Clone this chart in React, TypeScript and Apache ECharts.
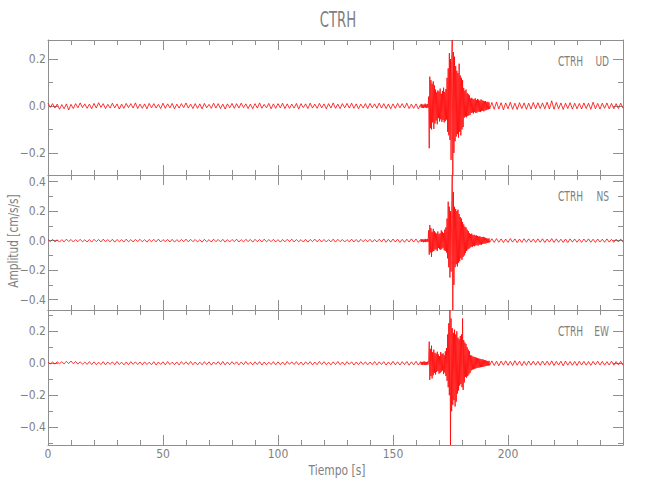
import React, { useEffect, useRef } from "react";
import * as echarts from "echarts";

// ---------- data (amplitudes in units of 0.001 cm/s/s) ----------
const STATION = "CTRH";
const COMPONENTS = ["UD", "NS", "EW"];

const PRE_START = 0; // s, step 1 s
const EVENT_START = 162; // s, step 0.25 s
const EVENT_STEP = 0.25;
const POST_START = 193; // s, step 1 s

const X_MAJOR = [0, 50, 100, 150, 200, 250];
const X_LABELS = [0, 50, 100, 150, 200];
const X_MINOR = [10, 20, 30, 40, 60, 70, 80, 90, 110, 120, 130, 140, 160, 170, 180, 190, 210, 220, 230, 240];

const Y_MIN = [-0.294, -0.47, -0.511];
const Y_MAX = [0.281, 0.445, 0.333];
const Y_MAJOR = [[-0.2, 0, 0.2], [-0.4, -0.2, 0, 0.2, 0.4], [-0.4, -0.2, 0, 0.2]];
const Y_MINOR = [[-0.1, 0.1], [-0.3, -0.1, 0.1, 0.3], [-0.5, -0.3, -0.1, 0.1, 0.3]];

const UD_PRE = [
  12, -6, 10, -9, 8, -14, 6, -12, 9, -17, 7, -11, 10, -8, 13, -7, 9, -10, 8, -12,
  11, -9, 14, -6, 10, -11, 7, -9, 12, -8, 9, -13, 8, -10, 11, -7, 10, -9, 13, -11,
  8, -10, 9, -12, 11, -8, 10, -9, 7, -11, 12, -10, 9, -8, 11, -12, 8, -9, 10, -7,
  13, -9, 8, -11, 10, -10, 9, -12, 11, -8, 7, -10, 12, -9, 10, -11, 8, -13, 9, -8,
  11, -10, 10, -9, 12, -7, 9, -11, 8, -12, 10, -9, 13, -10, 7, -8, 11, -12, 9, -10,
  10, -8, 12, -11, 9, -10, 8, -9, 11, -13, 10, -7, 9, -11, 12, -9, 8, -10, 11, -8,
  9, -12, 10, -9, 13, -10, 8, -11, 10, -8, 11, -9, 12, -10, 9, -12, 8, -9, 10, -11,
  11, -8, 9, -10, 12, -9, 10, -11, 8, -12, 9, -10, 11, -8, 10, -9, 12, -11, 8, -10, 9, -12,
];
const UD_EVENT = [
  6, -7, 9, -8, 5, -9, 7, -6, 10, -8, 6, -9, 8, -7,
  40, -180, 125, -95, 110, -100, 95, -70, 105, -98, 88, -75,
  70, -62, 58, -78, 66, -52, 62, -66, 74, -57, 52, -68, 64, -60, 78, -70, 60, -65, 72, -58,
  120, -110, 160, -125, 225, -145, 200, -230, 190, 281, -294, 230, -200,
  210, -150, 170, -130, 150, -120, 140, -135, 180, -110, 130, -125, 120, -100, 110, -90,
  77, -50, 65, -45, 70, -48, 55, -42, 50, -40, 45, -38,
  32, -30, 35, -28, 30, -32, 28, -26, 33, -30, 25, -28, 30, -24, 27, -25, 22, -26, 28, -22,
  24, -20, 22, -23, 20, -19, 21, -18,
  16, -15, 18, -14, 15, -13,
];
const UD_POST = [
  15, -14, 17, -13, 14, -16, 13, -12, 16, -14, 12, -15, 14, -11, 13, -14, 12, -13, 15, -12,
  14, -11, 13, -12, 16, -13, 22, -14, 15, -12, 13, -15, 12, -11, 14, -13, 12, -12, 11, -13,
  13, -11, 12, -14, 16, -12, 11, -13, 12, -10, 13, -12, 11, -12, 10, -11, 12, -10,
];

const NS_PRE = [
  8, -7, 9, -8, 6, -10, 7, -8, 10, -6, 8, -9, 7, -7, 9, -8, 6, -9, 8, -10,
  9, -7, 8, -9, 10, -6, 7, -8, 9, -10, 8, -7, 6, -9, 10, -8, 7, -9, 8, -6,
  9, -8, 7, -10, 8, -7, 9, -8, 10, -9, 7, -6, 8, -9, 9, -10, 7, -8, 8, -7,
  10, -8, 9, -7, 8, -9, 6, -10, 9, -8, 7, -9, 10, -7, 8, -8, 9, -10, 7, -9,
  8, -7, 10, -9, 7, -8, 9, -6, 8, -10, 9, -7, 8, -9, 10, -8, 7, -7, 9, -9,
  7, -10, 8, -8, 9, -7, 10, -9, 8, -8, 7, -9, 9, -10, 8, -7, 10, -8, 9, -9,
  8, -9, 7, -8, 10, -10, 9, -7, 8, -9, 7, -8, 10, -9, 8, -10, 9, -7, 8, -8,
  9, -10, 8, -9, 10, -8, 12, -11, 9, -10, 11, -9, 10, -12, 9, -11, 10, -9, 12, -10, 11, -12,
];
const NS_EVENT = [
  8, -9, 10, -7, 9, -11, 8, -8, 12, -10, 9, -8, 11, -9,
  70, -95, 106, -80, 85, -110, 60, -75, 80, -70, 65, -60,
  55, -60, 48, -70, 62, -50, 45, -58, 50, -62, 70, -55, 60, -48, 52, -65, 75, -70, 90, -80,
  150, -120, 264, -180, 230, -250, 200, -210, 180, 445, -470, 330, -300,
  230, -180, 215, -160, 200, -175, 210, -150, 180, -140, 160, -120, 150, -130, 127, -110,
  110, -100, 95, -85, 90, -70, 75, -60, 65, -55, 50, -48,
  45, -40, 48, -42, 38, -35, 40, -38, 35, -32, 36, -30, 32, -34, 28, -27, 30, -26, 25, -28,
  24, -22, 26, -20, 22, -21, 19, -18,
  16, -15, 14, -13, 15, -12,
];
const NS_POST = [
  13, -12, 14, -11, 12, -13, 11, -12, 14, -10, 12, -13, 11, -12, 13, -11, 12, -10, 11, -12,
  12, -11, 13, -12, 11, -10, 14, -12, 12, -11, 10, -12, 11, -13, 12, -10, 11, -11, 10, -12,
  11, -10, 12, -11, 10, -12, 11, -9, 10, -11, 12, -10, 9, -11, 10, -9, 11, -10,
];

const EW_PRE = [
  6, -4, 8, -5, 9, -3, 10, -4, 12, -2, 14, -3, 11, -5, 9, -6, 8, -7, 10, -8,
  9, -9, 7, -8, 10, -10, 8, -7, 9, -9, 11, -8, 7, -10, 8, -9, 10, -7, 9, -8,
  8, -10, 9, -8, 7, -9, 10, -11, 8, -7, 9, -10, 11, -8, 7, -9, 8, -10, 10, -7,
  9, -8, 11, -9, 8, -10, 7, -9, 10, -8, 9, -11, 8, -7, 10, -9, 11, -10, 8, -9,
  10, -7, 9, -10, 8, -9, 11, -8, 7, -10, 9, -8, 10, -11, 8, -9, 7, -8, 10, -10,
  9, -9, 8, -10, 11, -7, 9, -8, 10, -9, 8, -11, 9, -7, 10, -10, 8, -9, 11, -8,
  10, -9, 7, -10, 9, -8, 11, -9, 8, -10, 10, -7, 9, -11, 8, -9, 10, -8, 9, -10,
  8, -9, 11, -10, 9, -8, 10, -11, 8, -9, 12, -10, 9, -11, 10, -8, 11, -12, 9, -10, 12, -11,
];
const EW_EVENT = [
  10, -9, 8, -11, 9, -8, 12, -10, 9, -11, 8, -9, 10, -8,
  20, 135, -104, 90, -80, 110, -95, 70, -75, 85, -60, 65,
  -70, 60, -55, 72, -48, 55, -65, 45, -60, 70, -52, 58, -45, 62, -68, 50, -58, 75, -80, 95,
  -110, 180, -150, 250, -200, 333, -511, 280, -300, 220, -260, 190, -230,
  210, -270, 180, -240, 200, -190, 160, -170, 150, -140, 170, -130, 180, -150, 280, -167,
  145, -120, 130, -85, 120, -90, 100, -80, 85, -70, 75, -60,
  50, -45, 48, -40, 42, -38, 40, -35, 38, -32, 35, -30, 32, -28, 30, -27, 28, -25, 26, -24,
  25, -22, 23, -21, 20, -19, 18, -17,
  16, -15, 14, -14, 15, -13,
];
const EW_POST = [
  15, -14, 13, -16, 14, -12, 15, -13, 12, -14, 16, -12, 13, -15, 12, -13, 14, -11, 13, -12,
  12, -13, 14, -11, 13, -12, 15, -14, 12, -11, 13, -16, 14, -12, 11, -13, 12, -14, 13, -11,
  12, -12, 11, -13, 12, -10, 13, -11, 12, -12, 10, -11, 13, -12, 11, -10, 12, -11,
];

// ---------- styling ----------
const FONT = "'Liberation Sans Narrow', 'DejaVu Sans Condensed', 'Liberation Sans', sans-serif";
const AXIS_COLOR = "#8f8f8f";
const TEXT_COLOR = "#808080";
const TRACE_COLOR = "#ff0000";

const GRID_LEFT = 48;
const GRID_WIDTH = 575;
const GRID_TOP = 40;
const GRID_HEIGHT = 135;

function buildTrace(pre: number[], ev: number[], post: number[]) {
  const out: number[][] = [];
  pre.forEach((v, i) => out.push([PRE_START + i, v / 1000]));
  ev.forEach((v, i) => out.push([EVENT_START + EVENT_STEP * i, v / 1000]));
  post.forEach((v, i) => out.push([POST_START + i, v / 1000]));
  return out;
}

const fmtY = (v: number) => {
  if (Math.abs(v) < 1e-9) return "0.0";
  return (v < 0 ? "\u2212" : "") + Math.abs(v).toFixed(1);
};

function xAx(g: number, pos: string, major: boolean, showLabel: boolean) {
  return {
    type: "value",
    gridIndex: g,
    position: pos,
    min: 0,
    max: 250,
    axisLine: { show: major, onZero: false, lineStyle: { color: AXIS_COLOR, width: 1 } },
    axisTick: {
      show: true,
      inside: true,
      length: major ? 10 : 5,
      customValues: major ? X_MAJOR : X_MINOR,
      lineStyle: { color: AXIS_COLOR, width: 1 },
    },
    axisLabel: {
      show: showLabel,
      customValues: X_LABELS,
      color: TEXT_COLOR,
      fontFamily: FONT,
      fontSize: 12,
      margin: 3,
    },
    splitLine: { show: false },
  };
}

function yAx(g: number, pos: string, major: boolean, showLabel: boolean) {
  return {
    type: "value",
    gridIndex: g,
    position: pos,
    min: Y_MIN[g],
    max: Y_MAX[g],
    axisLine: { show: major, onZero: false, lineStyle: { color: AXIS_COLOR, width: 1 } },
    axisTick: {
      show: true,
      inside: true,
      length: major ? 10 : 5,
      customValues: major ? Y_MAJOR[g] : Y_MINOR[g],
      lineStyle: { color: AXIS_COLOR, width: 1 },
    },
    axisLabel: {
      show: showLabel,
      customValues: Y_MAJOR[g],
      formatter: fmtY,
      color: TEXT_COLOR,
      fontFamily: FONT,
      fontSize: 12,
      margin: 2,
    },
    splitLine: { show: false },
  };
}

export default function App() {
  const ref = useRef<HTMLDivElement>(null);
  useEffect(() => {
    if (!ref.current) return;
    const chart = echarts.init(ref.current, null, { renderer: "svg" });
    const traces = [
      buildTrace(UD_PRE, UD_EVENT, UD_POST),
      buildTrace(NS_PRE, NS_EVENT, NS_POST),
      buildTrace(EW_PRE, EW_EVENT, EW_POST),
    ];
    const gridIdx = [0, 1, 2];
    const grids = gridIdx.map((g) => ({
      left: GRID_LEFT,
      width: GRID_WIDTH,
      top: GRID_TOP + GRID_HEIGHT * g,
      height: GRID_HEIGHT,
    }));
    const xAxis: any[] = [];
    const yAxis: any[] = [];
    gridIdx.forEach((g) => {
      xAxis.push(xAx(g, "bottom", true, g === 2));
      xAxis.push(xAx(g, "bottom", false, false));
      xAxis.push(xAx(g, "top", true, false));
      xAxis.push(xAx(g, "top", false, false));
      yAxis.push(yAx(g, "left", true, true));
      yAxis.push(yAx(g, "left", false, false));
      yAxis.push(yAx(g, "right", true, false));
      yAxis.push(yAx(g, "right", false, false));
    });
    const graphic: any[] = [
      {
        type: "text",
        x: 338,
        y: 19,
        scaleX: 0.7,
        style: {
          text: STATION,
          fill: TEXT_COLOR,
          fontFamily: FONT,
          fontSize: 21,
          align: "center",
          verticalAlign: "middle",
        },
      },
      {
        type: "text",
        x: 13,
        y: 241,
        rotation: Math.PI / 2,
        scaleX: 0.84,
        style: {
          text: "Amplitud [cm/s/s]",
          fill: TEXT_COLOR,
          fontFamily: FONT,
          fontSize: 14,
          align: "center",
          verticalAlign: "middle",
        },
      },
      {
        type: "text",
        x: 337,
        y: 470,
        scaleX: 0.85,
        style: {
          text: "Tiempo [s]",
          fill: TEXT_COLOR,
          fontFamily: FONT,
          fontSize: 14,
          align: "center",
          verticalAlign: "middle",
        },
      },
    ];
    gridIdx.forEach((g) => {
      const cy = GRID_TOP + GRID_HEIGHT * g + 21;
      graphic.push({
        type: "text",
        x: 583,
        y: cy,
        scaleX: 0.72,
        style: { text: STATION, fill: TEXT_COLOR, fontFamily: FONT, fontSize: 14, align: "right", verticalAlign: "middle" },
      });
      graphic.push({
        type: "text",
        x: 609,
        y: cy,
        scaleX: 0.72,
        style: { text: COMPONENTS[g], fill: TEXT_COLOR, fontFamily: FONT, fontSize: 14, align: "right", verticalAlign: "middle" },
      });
    });
    chart.setOption({
      animation: false,
      backgroundColor: "#ffffff",
      grid: grids,
      xAxis,
      yAxis,
      graphic,
      series: traces.map((data, g) => ({
        type: "line",
        xAxisIndex: g * 4,
        yAxisIndex: g * 4,
        data,
        showSymbol: false,
        symbol: "none",
        clip: true,
        lineStyle: { color: TRACE_COLOR, width: 0.8 },
        z: 1,
      })),
    });
    return () => chart.dispose();
  }, []);
  return (
    <div
      ref={ref}
      style={{ position: "fixed", left: 0, top: 0, width: 650, height: 500, background: "#fff" }}
    />
  );
}
